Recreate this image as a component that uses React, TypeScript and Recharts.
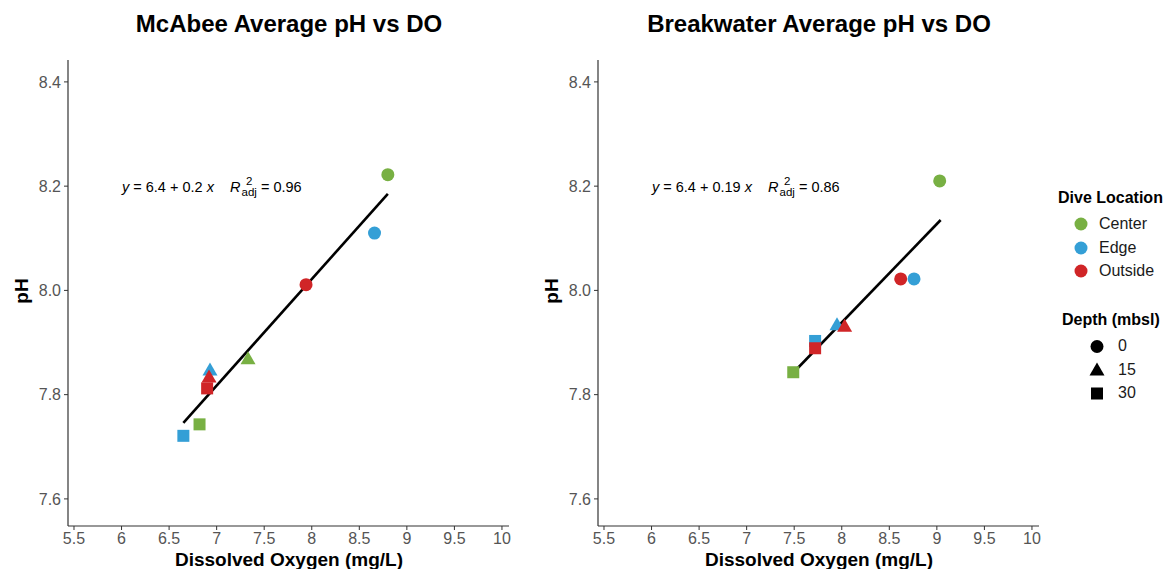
import React from 'react';
import { ScatterChart, Scatter, XAxis, YAxis, ReferenceLine } from 'recharts';

const FONT = '"Liberation Sans", Arial, Helvetica, sans-serif';

const locations = ['Center', 'Edge', 'Outside'];
const depths = [0, 15, 30];
const locationColors: Record<string, string> = {
  Center: '#78b043',
  Edge: '#349fd6',
  Outside: '#d02527',
};

// McAbee site: dissolved oxygen (mg/L) vs average pH
const mcabeePoints = [
  { loc: 'Center', depth: 0, do: 8.8, ph: 8.222 },
  { loc: 'Center', depth: 15, do: 7.33, ph: 7.868 },
  { loc: 'Center', depth: 30, do: 6.82, ph: 7.743 },
  { loc: 'Edge', depth: 0, do: 8.66, ph: 8.11 },
  { loc: 'Edge', depth: 15, do: 6.93, ph: 7.846 },
  { loc: 'Edge', depth: 30, do: 6.65, ph: 7.721 },
  { loc: 'Outside', depth: 0, do: 7.94, ph: 8.011 },
  { loc: 'Outside', depth: 15, do: 6.92, ph: 7.833 },
  { loc: 'Outside', depth: 30, do: 6.9, ph: 7.812 },
];

// Breakwater site
const breakwaterPoints = [
  { loc: 'Center', depth: 0, do: 9.03, ph: 8.21 },
  { loc: 'Center', depth: 30, do: 7.49, ph: 7.843 },
  { loc: 'Edge', depth: 0, do: 8.76, ph: 8.022 },
  { loc: 'Edge', depth: 15, do: 7.95, ph: 7.933 },
  { loc: 'Edge', depth: 30, do: 7.72, ph: 7.903 },
  { loc: 'Outside', depth: 0, do: 8.62, ph: 8.022 },
  { loc: 'Outside', depth: 15, do: 8.03, ph: 7.93 },
  { loc: 'Outside', depth: 30, do: 7.72, ph: 7.889 },
];

// fitted line end points
const mcabeeFit = [
  { x: 6.65, y: 7.746 },
  { x: 8.8, y: 8.185 },
];
const breakwaterFit = [
  { x: 7.49, y: 7.842 },
  { x: 9.04, y: 8.135 },
];

const xTicks = [5.5, 6, 6.5, 7, 7.5, 8, 8.5, 9, 9.5, 10];
const yTicks = [7.6, 7.8, 8.0, 8.2, 8.4];

const makeShape = (depth: number, color: string) => (props: any) => {
  const { cx, cy } = props;
  if (cx == null || cy == null) return <g />;
  if (depth === 0) return <circle cx={cx} cy={cy} r={6.5} fill={color} />;
  if (depth === 15) {
    const s = 15;
    const h = s * 0.866;
    return (
      <polygon
        points={`${cx},${cy - h * 0.62} ${cx - s / 2},${cy + h * 0.38} ${cx + s / 2},${cy + h * 0.38}`}
        fill={color}
      />
    );
  }
  return <rect x={cx - 6} y={cy - 6} width={12} height={12} fill={color} />;
};

const tickStyle = { fontSize: 16, fill: '#555', fontFamily: FONT };

interface PanelProps {
  left: number;
  title: string;
  points: typeof mcabeePoints;
  fit: { x: number; y: number }[];
  eq: { intercept: string; slope: string; r2: string };
}

const Panel: React.FC<PanelProps> = ({ left, title, points, fit, eq }) => {
  return (
    <div style={{ position: 'absolute', left, top: 0, width: 530, height: 569 }}>
      <div
        style={{
          position: 'absolute',
          left: 0,
          width: 578,
          top: 10,
          textAlign: 'center',
          fontSize: 24,
          fontWeight: 'bold',
          fontFamily: FONT,
          color: '#000',
        }}
      >
        {title}
      </div>
      <ScatterChart width={530} height={569} margin={{ top: 60, right: 21, bottom: 13, left: 28 }}>
        <XAxis
          type="number"
          dataKey="do"
          domain={[5.437, 10.074]}
          ticks={xTicks}
          interval={0}
          height={30}
          tick={tickStyle}
          tickFormatter={(v: number) => String(v)}
          tickSize={4}
          tickMargin={3}
          axisLine={{ stroke: '#333', strokeWidth: 1.2 }}
          tickLine={{ stroke: '#333' }}
        />
        <YAxis
          type="number"
          dataKey="ph"
          domain={[7.548, 8.442]}
          ticks={yTicks}
          interval={0}
          width={40}
          tick={tickStyle}
          tickFormatter={(v: number) => v.toFixed(1)}
          tickSize={4}
          tickMargin={3}
          axisLine={{ stroke: '#333', strokeWidth: 1.2 }}
          tickLine={{ stroke: '#333' }}
        />
        {locations.flatMap((loc) =>
          depths.map((d) => {
            const data = points.filter((p) => p.loc === loc && p.depth === d);
            if (data.length === 0) return null;
            return (
              <Scatter
                key={`${loc}-${d}`}
                data={data}
                shape={makeShape(d, locationColors[loc])}
                isAnimationActive={false}
              />
            );
          })
        )}
        <ReferenceLine
          segment={[fit[0], fit[1]]}
          stroke="#000"
          strokeWidth={2.6}
          ifOverflow="visible"
        />
      </ScatterChart>
      <div
        style={{
          position: 'absolute',
          left: 122,
          top: 177,
          fontSize: 14.5,
          fontFamily: FONT,
          color: '#000',
          whiteSpace: 'pre',
          lineHeight: '18px',
        }}
      >
        <i>y</i>
        {` = ${eq.intercept} + ${eq.slope} `}
        <i>x</i>
        {'    '}
        <i>R</i>
        <span
          style={{
            display: 'inline-flex',
            flexDirection: 'column',
            verticalAlign: 'middle',
            fontSize: 11.5,
            lineHeight: '11px',
            marginLeft: 1,
            position: 'relative',
            top: -1,
          }}
        >
          <span style={{ textAlign: 'center' }}>2</span>
          <span>adj</span>
        </span>
        {` = ${eq.r2}`}
      </div>
      <div
        style={{
          position: 'absolute',
          left: 0,
          width: 578,
          top: 549,
          textAlign: 'center',
          fontSize: 19,
          fontWeight: 'bold',
          fontFamily: FONT,
        }}
      >
        Dissolved Oxygen (mg/L)
      </div>
      <div
        style={{
          position: 'absolute',
          left: 22,
          top: 291,
          transform: 'translate(-50%, -50%) rotate(-90deg)',
          fontSize: 19,
          fontWeight: 'bold',
          fontFamily: FONT,
        }}
      >
        pH
      </div>
    </div>
  );
};

const legendRow: React.CSSProperties = {
  position: 'absolute',
  display: 'flex',
  alignItems: 'center',
  fontSize: 16,
  fontFamily: FONT,
  color: '#1a1a1a',
};

const App: React.FC = () => {
  return (
    <div style={{ position: 'absolute', left: 0, top: 0, width: 1169, height: 569, background: '#fff', overflow: 'hidden' }}>
      <Panel
        left={0}
        title="McAbee Average pH vs DO"
        points={mcabeePoints}
        fit={mcabeeFit}
        eq={{ intercept: '6.4', slope: '0.2', r2: '0.96' }}
      />
      <Panel
        left={530}
        title="Breakwater Average pH vs DO"
        points={breakwaterPoints}
        fit={breakwaterFit}
        eq={{ intercept: '6.4', slope: '0.19', r2: '0.86' }}
      />
      <div style={{ position: 'absolute', left: 1058, top: 189, fontSize: 16, fontWeight: 'bold', fontFamily: FONT }}>
        Dive Location
      </div>
      {locations.map((loc, i) => (
        <div key={loc} style={{ ...legendRow, left: 1073, top: 215 + i * 23.5, height: 18 }}>
          <svg width={16} height={16} style={{ marginRight: 10 }}>
            <circle cx={8} cy={8} r={6.5} fill={locationColors[loc]} />
          </svg>
          {loc}
        </div>
      ))}
      <div style={{ position: 'absolute', left: 1062, top: 311, fontSize: 16, fontWeight: 'bold', fontFamily: FONT }}>
        Depth (mbsl)
      </div>
      {depths.map((d, i) => (
        <div key={d} style={{ ...legendRow, left: 1089, top: 337 + i * 23.5, height: 18 }}>
          <svg width={16} height={16} style={{ marginRight: 13 }}>
            {makeShape(d, '#000')({ cx: 8, cy: 8.5 })}
          </svg>
          {d}
        </div>
      ))}
    </div>
  );
};

export default App;
